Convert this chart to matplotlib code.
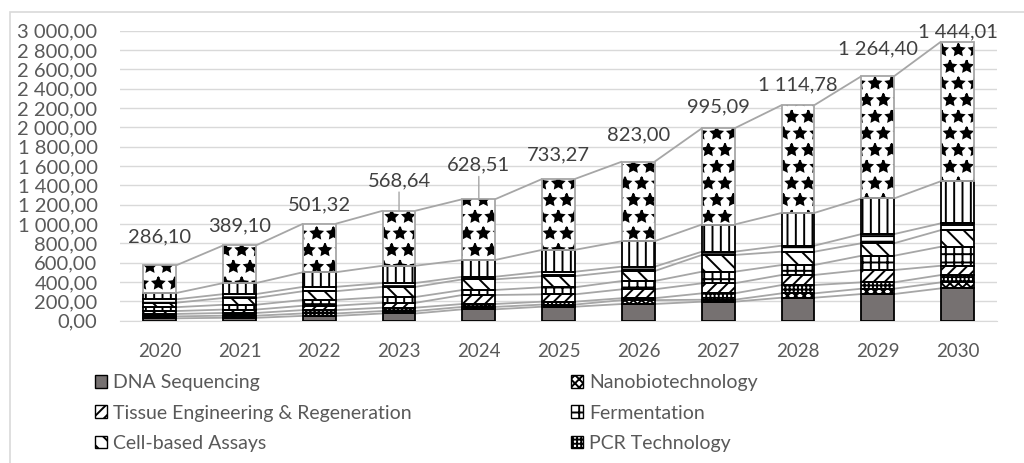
import matplotlib
matplotlib.use("Agg")
import numpy as np
import matplotlib.pyplot as plt
from matplotlib.patches import Patch, Rectangle
from matplotlib.ticker import FuncFormatter, MultipleLocator

# market size by segment (bottom -> top of each stack)
years = [str(y) for y in range(2020, 2031)]
totals = [286.10, 389.10, 501.32, 568.64, 628.51, 733.27, 823.00, 995.09, 1114.78, 1264.40, 1444.01]

dna_sequencing = [25, 30, 50, 75, 118, 145, 173, 197, 238, 276, 335]
nanobiotechnology = [20, 22, 25, 25, 25, 22, 40, 20, 45, 55, 62]
pcr_technology = [25, 28, 35, 35, 30, 30, 20, 66, 86, 66, 76]
tissue_engineering = [30, 35, 45, 50, 93, 76, 92, 104, 104, 127, 96]
fermentation = [40, 50, 60, 60, 52, 73, 86, 120, 103, 148, 197]
cell_based_assays = [46, 70, 90, 105, 110, 116, 103, 173, 138, 129, 172]
other_a = [35, 40, 45, 40, 27, 45, 45, 34, 62, 95, 70]
other_b = [65.10, 114.10, 151.32, 178.64, 173.51, 226.27, 264.00, 281.09, 338.78, 368.40, 436.01]

# label placement (pixels above the bar top) and which labels got a leader line
label_offsets = [29, 20, 19, 30, 34, 24, 27, 21, 20, 27, 10]
leader_years = ["2023", "2024"]

plt.rcParams["font.family"] = ["Lato", "DejaVu Sans"]
plt.rcParams["hatch.linewidth"] = 1.4

TXT = "#595959"
GRID = "#d9d9d9"
LINE = "#a6a6a6"


def fmt(v, pos=None):
    return f"{v:,.2f}".replace(",", " ").replace(".", ",")


segments = [
    ("DNA Sequencing", dna_sequencing, "#767171", None),
    ("Nanobiotechnology", nanobiotechnology, "white", "xxxx"),
    ("PCR Technology", pcr_technology, "white", "++++"),
    ("Tissue Engineering & Regeneration", tissue_engineering, "white", "///"),
    ("Fermentation", fermentation, "white", "++"),
    ("Cell-based Assays", cell_based_assays, "white", "\\\\"),
    (None, other_a, "white", "---"),
    (None, other_b, "white", "||"),
    (None, totals, "white", "*"),
]

fig = plt.figure(figsize=(10.24, 4.63), dpi=100)
ax = fig.add_axes([0.117, 0.3073, 0.857, 0.6264])

x = np.arange(len(years))
w = 0.41
bottom = np.zeros(len(years))
levels = []
for i, (name, vals, face, hatch) in enumerate(segments):
    vals = np.asarray(vals, dtype=float)
    is_total = i == len(segments) - 1
    ax.bar(x, vals, w, bottom=bottom, color=face, hatch=hatch,
           edgecolor="black", linewidth=0, zorder=3)
    ax.bar(x, vals, w, bottom=bottom, fill=False,
           edgecolor=LINE if is_total else "black",
           linewidth=1.3, zorder=4)
    bottom = bottom + vals
    levels.append(bottom.copy())

# series lines between neighbouring bars
for lvl in levels:
    for i in range(len(years) - 1):
        ax.plot([x[i] + w / 2, x[i + 1] - w / 2], [lvl[i], lvl[i + 1]],
                color=LINE, lw=1.3, zorder=2, solid_capstyle="butt")

# value labels for the total
top = levels[-1]
for i, t in enumerate(totals):
    kw = {}
    if years[i] in leader_years:
        kw["arrowprops"] = dict(arrowstyle="-", color=LINE, lw=1, shrinkA=0, shrinkB=0)
    ax.annotate(fmt(t), xy=(x[i], top[i]), xytext=(0, label_offsets[i]),
                textcoords="offset pixels", ha="center", va="center",
                fontsize=14.5, color="#404040", zorder=5, **kw)

ax.set_xlim(-0.5, len(years) - 0.5)
ax.set_ylim(0, 3000)
ax.yaxis.set_major_locator(MultipleLocator(200))
ax.yaxis.set_major_formatter(FuncFormatter(fmt))
ax.set_xticks(x)
ax.set_xticklabels(years)
ax.grid(axis="y", color=GRID, lw=1, zorder=0)
ax.set_axisbelow(True)
for s in ["top", "right", "left"]:
    ax.spines[s].set_visible(False)
ax.spines["bottom"].set_color(GRID)
ax.tick_params(axis="both", length=0, colors=TXT)
ax.tick_params(axis="y", labelsize=14.5, pad=16)
ax.tick_params(axis="x", labelsize=13.5, pad=16)

# legend (only the first six entries fit in the chart area)
shown = ["DNA Sequencing", "Tissue Engineering & Regeneration", "Cell-based Assays",
         "Nanobiotechnology", "Fermentation", "PCR Technology"]
lookup = {s[0]: s for s in segments if s[0]}
handles = [Patch(facecolor=lookup[n][2], hatch=lookup[n][3], edgecolor="black",
                 linewidth=1, label=n) for n in shown]
fig.legend(handles=handles, ncol=2, loc="upper left", bbox_to_anchor=(0.093, 0.192),
           frameon=False, fontsize=14, labelcolor=TXT, handlelength=0.62,
           handleheight=0.62, handletextpad=0.3, columnspacing=8.2,
           labelspacing=0.69, borderaxespad=0, borderpad=0)

# chart area border
fig.patches.append(Rectangle((10 / 1024, -0.1), 1.2, 1.1 - 12 / 463,
                             transform=fig.transFigure, fill=False,
                             edgecolor=GRID, lw=1.2))

fig.savefig("out.png", dpi=100)
